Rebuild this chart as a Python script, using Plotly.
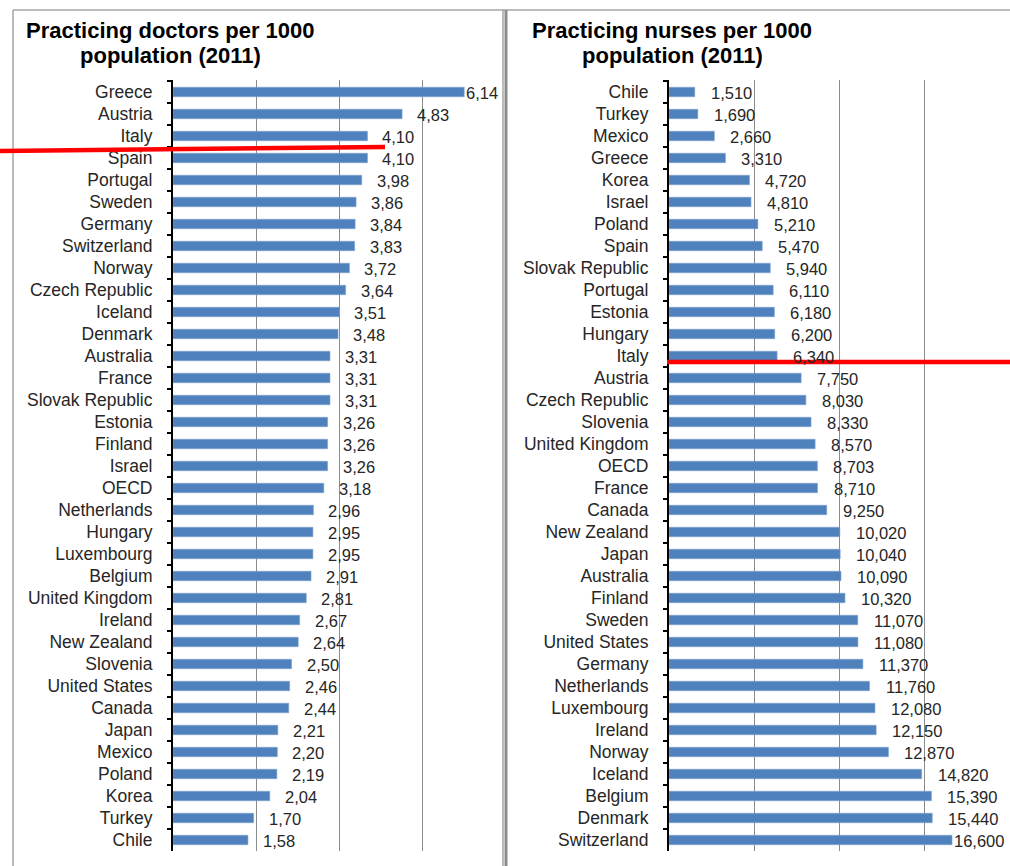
import plotly.graph_objects as go

# ---------------- data ----------------
doctor_countries = ["Greece", "Austria", "Italy", "Spain", "Portugal", "Sweden", "Germany",
                    "Switzerland", "Norway", "Czech Republic", "Iceland", "Denmark", "Australia",
                    "France", "Slovak Republic", "Estonia", "Finland", "Israel", "OECD",
                    "Netherlands", "Hungary", "Luxembourg", "Belgium", "United Kingdom", "Ireland",
                    "New Zealand", "Slovenia", "United States", "Canada", "Japan", "Mexico",
                    "Poland", "Korea", "Turkey", "Chile"]
doctor_values = [6.14, 4.83, 4.10, 4.10, 3.98, 3.86, 3.84, 3.83, 3.72, 3.64, 3.51, 3.48, 3.31,
                 3.31, 3.31, 3.26, 3.26, 3.26, 3.18, 2.96, 2.95, 2.95, 2.91, 2.81, 2.67, 2.64,
                 2.50, 2.46, 2.44, 2.21, 2.20, 2.19, 2.04, 1.70, 1.58]

nurse_countries = ["Chile", "Turkey", "Mexico", "Greece", "Korea", "Israel", "Poland", "Spain",
                   "Slovak Republic", "Portugal", "Estonia", "Hungary", "Italy", "Austria",
                   "Czech Republic", "Slovenia", "United Kingdom", "OECD", "France", "Canada",
                   "New Zealand", "Japan", "Australia", "Finland", "Sweden", "United States",
                   "Germany", "Netherlands", "Luxembourg", "Ireland", "Norway", "Iceland",
                   "Belgium", "Denmark", "Switzerland"]
nurse_values = [1.510, 1.690, 2.660, 3.310, 4.720, 4.810, 5.210, 5.470, 5.940, 6.110, 6.180,
                6.200, 6.340, 7.750, 8.030, 8.330, 8.570, 8.703, 8.710, 9.250, 10.020, 10.040,
                10.090, 10.320, 11.070, 11.080, 11.370, 11.760, 12.080, 12.150, 12.870, 14.820,
                15.390, 15.440, 16.600]

doctor_title = ["Practicing doctors per 1000", "population (2011)"]
nurse_title = ["Practicing nurses per 1000", "population (2011)"]

doctor_grid = [1.75, 3.5, 5.25, 7]
nurse_grid = [5, 10, 15, 20]

# ---------------- layout helpers ----------------
W, H = 1010, 866
def px(x):
    return x / W
def py(y):
    return 1 - y / H

BAR = "#4F81BD"
FONT = "Liberation Sans, Arial, sans-serif"

fig = go.Figure()
fig.add_trace(go.Bar(x=doctor_values, y=doctor_countries, orientation="h",
                     marker=dict(color=BAR, line=dict(color="#7FA3CF", width=0.6)),
                     xaxis="x", yaxis="y", showlegend=False, hoverinfo="x+y"))
fig.add_trace(go.Bar(x=nurse_values, y=nurse_countries, orientation="h",
                     marker=dict(color=BAR, line=dict(color="#7FA3CF", width=0.6)),
                     xaxis="x2", yaxis="y2", showlegend=False, hoverinfo="x+y"))

ydom = [py(851), py(80)]
xaxis_common = dict(showticklabels=False, showline=False, zeroline=False, ticks="",
                    showgrid=True, gridcolor="#8C8C8C", gridwidth=1, fixedrange=True)
yaxis_common = dict(autorange="reversed", showline=True, linecolor="black", linewidth=2,
                    ticks="outside", ticklen=4, tickwidth=1.5, tickcolor="black",
                    tickson="boundaries", showgrid=False, zeroline=False,
                    ticklabelstandoff=15,
                    tickfont=dict(family=FONT, size=17.5, color="#262626"))

fig.update_layout(
    width=W, height=H, margin=dict(l=0, r=0, t=0, b=0),
    paper_bgcolor="white", plot_bgcolor="white",
    bargap=0.57,
    xaxis=dict(domain=[px(173), px(505)], range=[0, 7], tickvals=doctor_grid, anchor="y", **xaxis_common),
    yaxis=dict(domain=ydom, anchor="x", **yaxis_common),
    xaxis2=dict(domain=[px(669), 1.0], range=[0, 20], tickvals=nurse_grid, anchor="y2", **xaxis_common),
    yaxis2=dict(domain=ydom, anchor="x2", **yaxis_common),
)

annotations = []
# data labels
def add_labels(vals, cats, xref, yref, fmt, vmax, shift):
    for v, c in zip(vals, cats):
        s = 0 if v / vmax > 0.8 else shift
        annotations.append(dict(x=v, y=c, xref=xref, yref=yref, text=fmt(v),
                                showarrow=False, xanchor="left", yanchor="middle",
                                xshift=s, yshift=-1,
                                font=dict(family=FONT, size=16.5, color="#262626")))

add_labels(doctor_values, doctor_countries, "x", "y",
           lambda v: f"{v:.2f}".replace(".", ","), 7, 13)
add_labels(nurse_values, nurse_countries, "x2", "y2",
           lambda v: f"{v:.3f}".replace(".", ","), 20, 14)

# titles
for lines, cx in ((doctor_title, 170), (nurse_title, 672)):
    for line, cy in zip(lines, (31, 56)):
        annotations.append(dict(x=px(cx), y=py(cy), xref="paper", yref="paper", text=f"<b>{line}</b>",
                                showarrow=False, xanchor="center", yanchor="middle",
                                font=dict(family=FONT, size=22, color="black")))
fig.update_layout(annotations=annotations)

# panel borders and red marker lines
shapes = [
    dict(type="line", xref="paper", yref="paper", x0=px(13), x1=1.0, y0=py(10), y1=py(10),
         line=dict(color="#A6A6A6", width=1.5)),
    dict(type="line", xref="paper", yref="paper", x0=px(13), x1=px(13), y0=py(10), y1=0,
         line=dict(color="#A6A6A6", width=1.5)),
    dict(type="line", xref="paper", yref="paper", x0=px(503), x1=px(503), y0=py(10), y1=0,
         line=dict(color="#A6A6A6", width=1.5)),
    dict(type="line", xref="paper", yref="paper", x0=px(506), x1=px(506), y0=py(10), y1=0,
         line=dict(color="#8C8C8C", width=3)),
    dict(type="line", xref="paper", yref="paper", x0=0, x1=px(385), y0=py(151), y1=py(147),
         line=dict(color="#FF0000", width=4.5)),
    dict(type="line", xref="paper", yref="paper", x0=px(667), x1=1.0, y0=py(362), y1=py(362),
         line=dict(color="#FF0000", width=4.5)),
]
fig.update_layout(shapes=shapes)

fig.write_html("out.html")
